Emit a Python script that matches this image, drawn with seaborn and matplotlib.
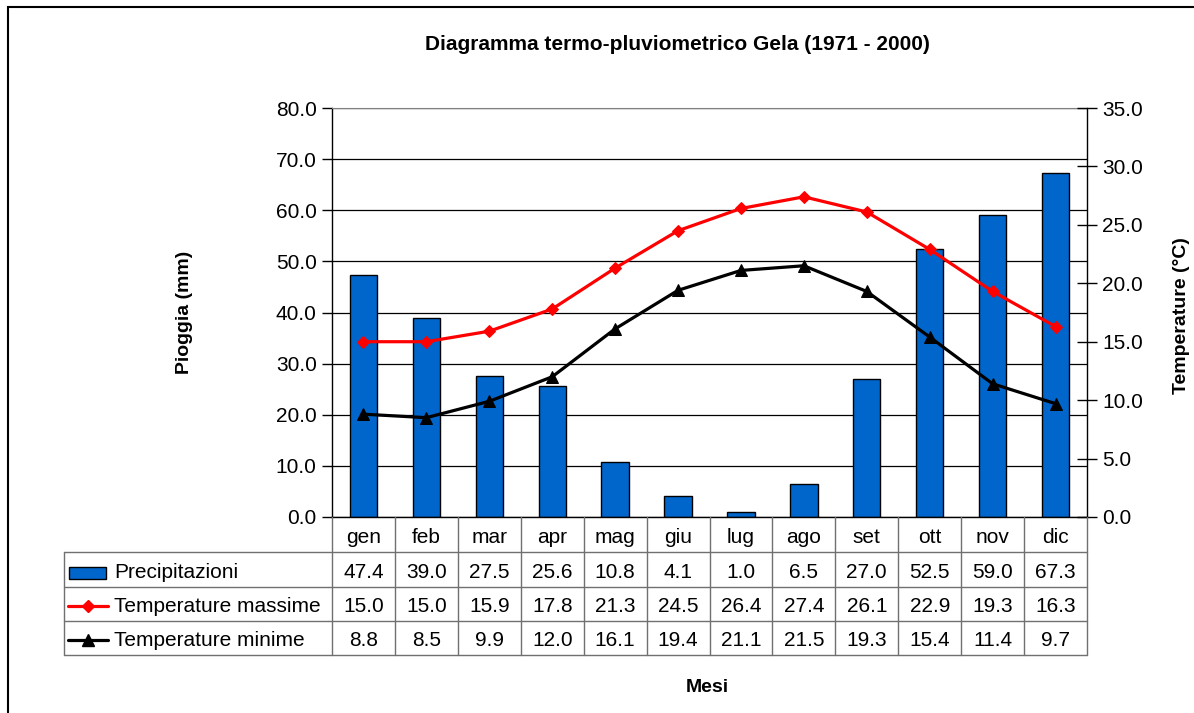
import numpy as np
import matplotlib
matplotlib.use('Agg')
import matplotlib.pyplot as plt
import matplotlib.transforms as mtransforms
from matplotlib.lines import Line2D
from matplotlib.patches import Rectangle
import seaborn as sns

# dati
mesi = ['gen', 'feb', 'mar', 'apr', 'mag', 'giu', 'lug', 'ago', 'set', 'ott', 'nov', 'dic']
precipitazioni = [47.4, 39.0, 27.5, 25.6, 10.8, 4.1, 1.0, 6.5, 27.0, 52.5, 59.0, 67.3]
temp_max = [15.0, 15.0, 15.9, 17.8, 21.3, 24.5, 26.4, 27.4, 26.1, 22.9, 19.3, 16.3]
temp_min = [8.8, 8.5, 9.9, 12.0, 16.1, 19.4, 21.1, 21.5, 19.3, 15.4, 11.4, 9.7]
left_ticks = [0, 10, 20, 30, 40, 50, 60, 70, 80]
right_ticks = [0, 5, 10, 15, 20, 25, 30, 35]

sns.set_style('white')
plt.rcParams['font.family'] = ['Liberation Sans', 'DejaVu Sans']
plt.rcParams['text.color'] = 'black'
plt.rcParams['axes.labelcolor'] = 'black'
plt.rcParams['xtick.color'] = 'black'
plt.rcParams['ytick.color'] = 'black'

W, H = 1194, 713
fig = plt.figure(figsize=(W / 100, H / 100), dpi=100)


def fx(x):
    return x / W


def fy(y):
    return 1 - y / H


# area del grafico
ax = fig.add_axes([fx(332), fy(517), fx(1087) - fx(332), fy(108) - fy(517)])
pos = np.arange(len(mesi))

sns.barplot(x=mesi, y=precipitazioni, color='#0066CC', edgecolor='black',
            linewidth=1, width=0.435, saturation=1, ax=ax, zorder=2)
ax.set_xlim(-0.5, 11.5)
ax.set_ylim(0, 80)
ax.set_yticks(left_ticks)
ax.set_yticklabels([f'{v:.1f}' for v in left_ticks], fontsize=15)
ax.set_xticks([])
ax.set_xlabel('')
ax.set_ylabel('')
ax.set_axisbelow(True)
ax.grid(axis='y', color='black', linewidth=0.9)
ax.tick_params(axis='y', direction='out', length=7, width=1, color='black', pad=4, left=True)
for s in ['left', 'bottom']:
    ax.spines[s].set_color('black')
    ax.spines[s].set_linewidth(1)
ax.spines['top'].set_color('#808080')
ax.spines['right'].set_visible(False)

ax2 = ax.twinx()
sns.lineplot(x=pos, y=temp_max, color='red', marker='D', markersize=6,
             markeredgecolor='red', linewidth=2.3, ax=ax2)
sns.lineplot(x=pos, y=temp_min, color='black', marker='^', markersize=8,
             markeredgecolor='black', linewidth=2.3, ax=ax2)
ax2.set_ylim(0, 35)
ax2.set_yticks(right_ticks)
ax2.set_yticklabels([f'{v:.1f}' for v in right_ticks], fontsize=15)
ax2.tick_params(axis='y', direction='inout', length=14, width=1, color='black', pad=4, right=True)
ax2.grid(False)
for s in ['left', 'top', 'bottom']:
    ax2.spines[s].set_visible(False)
ax2.spines['right'].set_color('black')
ax2.spines['right'].set_linewidth(1)

# tabella dati
tr = mtransforms.blended_transform_factory(ax.transData, fig.transFigure)
gray = '#707070'
rows_y = [517, 552, 587, 621, 655]
for i in range(len(mesi) + 1):
    fig.add_artist(Line2D([i - 0.5, i - 0.5], [fy(517), fy(655)], transform=tr,
                          color=gray, linewidth=1))
for y in rows_y[1:]:
    fig.add_artist(Line2D([fx(64), fx(1087)], [fy(y), fy(y)], transform=fig.transFigure,
                          color=gray, linewidth=1))
fig.add_artist(Line2D([fx(64), fx(64)], [fy(552), fy(655)], transform=fig.transFigure,
                      color=gray, linewidth=1))

righe = [mesi,
         [f'{v:.1f}' for v in precipitazioni],
         [f'{v:.1f}' for v in temp_max],
         [f'{v:.1f}' for v in temp_min]]
for r, vals in enumerate(righe):
    yc = (rows_y[r] + rows_y[r + 1]) / 2 + 3
    for i, t in enumerate(vals):
        fig.text(i, fy(yc), t, transform=tr, ha='center', va='center', fontsize=15)

nomi = ['Precipitazioni', 'Temperature massime', 'Temperature minime']
for r, nome in enumerate(nomi):
    yc = (rows_y[r + 1] + rows_y[r + 2]) / 2 + 3
    fig.text(fx(114), fy(yc), nome, ha='left', va='center', fontsize=15)

fig.add_artist(Rectangle((fx(69), fy(579)), fx(106) - fx(69), fy(567) - fy(579),
                         transform=fig.transFigure, facecolor='#0066CC',
                         edgecolor='black', linewidth=1))
fig.add_artist(Line2D([fx(68), fx(108)], [fy(606), fy(606)], transform=fig.transFigure,
                      color='red', linewidth=2.3))
fig.add_artist(Line2D([fx(88)], [fy(606)], transform=fig.transFigure, color='red',
                      marker='D', markersize=6, markeredgecolor='red'))
fig.add_artist(Line2D([fx(68), fx(108)], [fy(640), fy(640)], transform=fig.transFigure,
                      color='black', linewidth=2.3))
fig.add_artist(Line2D([fx(88)], [fy(640)], transform=fig.transFigure, color='black',
                      marker='^', markersize=8))

# titoli
fig.text(fx(677), fy(45), 'Diagramma termo-pluviometrico Gela (1971 - 2000)',
         ha='center', va='center', fontsize=15, fontweight='bold')
fig.text(fx(185), fy(312), 'Pioggia (mm)', rotation=90, ha='center', va='center',
         fontsize=14, fontweight='bold')
fig.text(fx(1182), fy(316), 'Temperature (°C)', rotation=90, ha='center', va='center',
         fontsize=14, fontweight='bold')
fig.text(fx(707), fy(688), 'Mesi', ha='center', va='center', fontsize=14, fontweight='bold')

# bordo
fig.add_artist(Rectangle((fx(8), -0.1), 1.2, fy(7) + 0.1, transform=fig.transFigure,
                         facecolor='none', edgecolor='black', linewidth=1.5))

fig.savefig('out.png', dpi=100)
